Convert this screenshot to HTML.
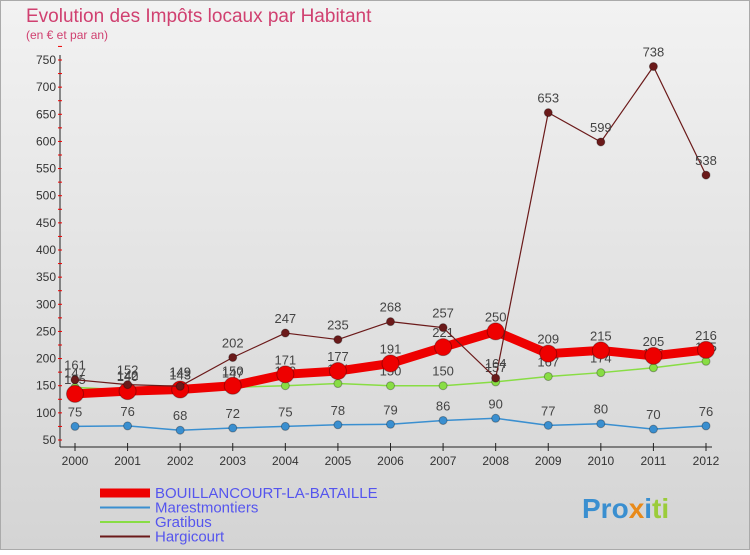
<!DOCTYPE html>
<html><head><meta charset="utf-8"><style>
body{margin:0;width:750px;height:550px;overflow:hidden;font-family:"Liberation Sans",sans-serif}
</style></head><body>
<svg width="750" height="550" xmlns="http://www.w3.org/2000/svg">
<defs><linearGradient id="bg" x1="0" y1="0" x2="0" y2="1"><stop offset="0" stop-color="#f2f2f2"/><stop offset="1" stop-color="#d4d4d4"/></linearGradient></defs>
<rect x="0.5" y="0.5" width="749" height="549" fill="url(#bg)" stroke="#aaa"/>
<text x="26" y="22" font-size="19" fill="#d04070">Evolution des Impôts locaux par Habitant</text>
<text x="26" y="39" font-size="12" fill="#d04070">(en € et par an)</text>
<g id="axes"></g><g id="series"></g><g id="legend"></g>
<text x="582" y="518" font-size="28" font-weight="bold" fill="#3a8fd0">Pro<tspan fill="#e88a1a">x</tspan><tspan fill="#3a8fd0">i</tspan><tspan fill="#9bcc3a">ti</tspan></text>
</svg>
<script>
const years=["2000","2001","2002","2003","2004","2005","2006","2007","2008","2009","2010","2011","2012"];
const yTicks=[50,100,150,200,250,300,350,400,450,500,550,600,650,700,750];
const bouillancourt=[135,140,143,150,171,177,191,221,250,209,215,205,216];
const marestmontiers=[75,76,68,72,75,78,79,86,90,77,80,70,76];
const gratibus=[147,142,149,147,150,154,150,150,157,167,174,183,195];
const hargicourt=[161,152,149,202,247,235,268,257,164,653,599,738,538];
const NS="http://www.w3.org/2000/svg";
const x=i=>75+i*(706-75)/12;
const y=v=>440-(v-50)*(380/700);
function mk(t,a,p){const e=document.createElementNS(NS,t);for(const k in a)e.setAttribute(k,a[k]);p.appendChild(e);return e;}
const ax=document.getElementById('axes');
let l=mk('line',{x1:60,y1:55,x2:60,y2:447,stroke:'#222'},ax);


l=mk('line',{x1:60,y1:447,x2:712,y2:447,stroke:'#222'},ax);


yTicks.forEach(v=>{
 const t=mk('text',{x:56,y:y(v)+4,'font-size':12,'text-anchor':'end',fill:'#333'},ax);t.textContent=v;
 
 
 mk('line',{x1:58,y1:y(v),x2:62,y2:y(v),stroke:'#e00'},ax);
 mk('line',{x1:58,y1:y(v+25),x2:62,y2:y(v+25),stroke:'#e00'},ax);
});
years.forEach((yr,i)=>{
 mk('line',{x1:x(i),y1:443,x2:x(i),y2:451,stroke:'#222'},ax);
 const t=mk('text',{x:x(i),y:465,'font-size':12,'text-anchor':'middle',fill:'#333'},ax);t.textContent=yr;
 
 
});
const sg=document.getElementById('series');
function series(data,color,w,r,name){
 const g=mk('g',{},sg);
 
 
 mk('polyline',{points:data.map((v,i)=>x(i)+','+y(v)).join(' '),fill:'none',stroke:color,'stroke-width':w,'stroke-linejoin':'round'},g);
 data.forEach((v,i)=>{
  const c=mk('circle',{cx:x(i),cy:y(v),r:r,fill:color,stroke:'rgba(0,0,0,0.3)','stroke-width':1},g);
  
  
  const t=mk('text',{x:x(i),y:y(v)-10,'font-size':13,'text-anchor':'middle',fill:'#444'},g);t.textContent=v;
  
  
 });
}
series(marestmontiers,'#3a8fd0',1.5,4,'marestmontiers-series');
series(gratibus,'#88dd44',1.5,4,'gratibus-series');
series(bouillancourt,'#ee0000',9,8.5,'bouillancourt-series');
series(hargicourt,'#6b1a1a',1.2,4,'hargicourt-series');
const lg=document.getElementById('legend');
const items=[["BOUILLANCOURT-LA-BATAILLE","#ee0000",9],["Marestmontiers","#3a8fd0",2],["Gratibus","#88dd44",2],["Hargicourt","#6b1a1a",2]];
items.forEach((it,i)=>{
 const yy=493+i*14.5;
 const g=mk('g',{},lg);
 
 
 mk('line',{x1:100,y1:yy,x2:150,y2:yy,stroke:it[1],'stroke-width':it[2]},g);
 const t=mk('text',{x:155,y:yy+5,'font-size':15,fill:'#5555ee'},g);t.textContent=it[0];
});
</script>
</body></html>
